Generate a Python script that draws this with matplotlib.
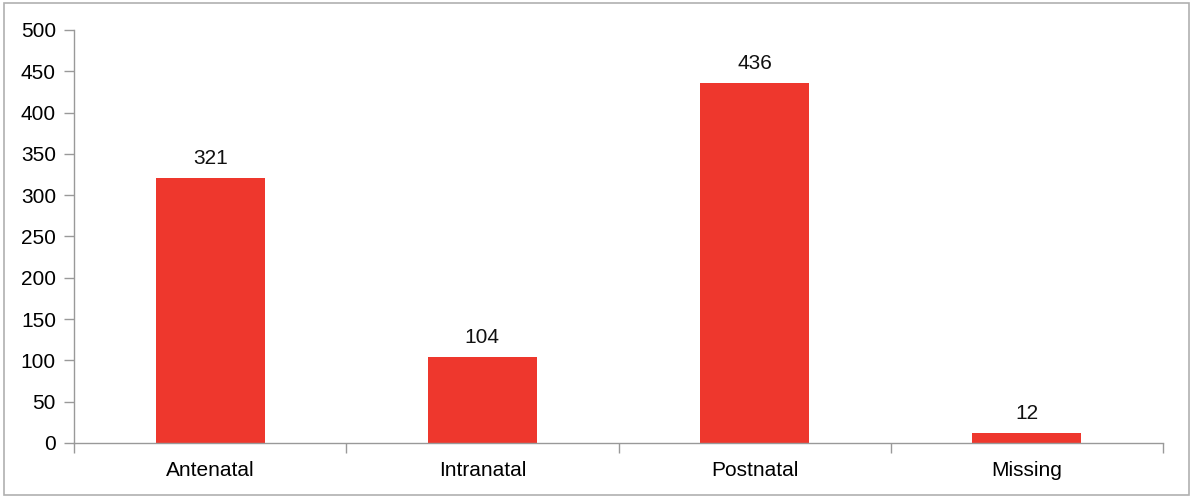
import matplotlib
matplotlib.use("Agg")
import matplotlib.pyplot as plt
from matplotlib.patches import Rectangle

categories = ["Antenatal", "Intranatal", "Postnatal", "Missing"]
values = [321, 104, 436, 12]
yticks = [0, 50, 100, 150, 200, 250, 300, 350, 400, 450, 500]

plt.rcParams['font.family'] = ['Liberation Sans', 'DejaVu Sans']

fig = plt.figure(figsize=(11.92, 4.96), dpi=100)
fig.patches.append(Rectangle((4/1192, 1/496), 1185/1192, 492/496, transform=fig.transFigure,
                             fill=False, edgecolor='#b0b0b0', linewidth=1.2))
ax = fig.add_axes([74/1192, 53/496, 1089/1192, 413/496])

x = list(range(len(categories)))
bars = ax.bar(x, values, width=0.4, color='#EE372D', zorder=2)
for xi, v in zip(x, values):
    ax.text(xi, v + 12, str(v), ha='center', va='bottom', fontsize=15, color='#111111')

ax.set_xlim(-0.5, len(categories) - 0.5)
ax.set_ylim(0, 500)
ax.set_yticks(yticks)
ax.set_yticklabels([str(t) for t in yticks], fontsize=15)
ax.set_xticks(x)
ax.set_xticklabels(categories, fontsize=15)
ax.tick_params(axis='x', length=0, pad=13)
ax.set_xticks([i - 0.5 for i in range(len(categories) + 1)], minor=True)
ax.tick_params(axis='x', which='minor', length=7, color='#999999', width=1)
ax.tick_params(axis='y', length=7, color='#999999', width=1, pad=6)

for s in ['top', 'right']:
    ax.spines[s].set_visible(False)
for s in ['left', 'bottom']:
    ax.spines[s].set_color('#999999')
    ax.spines[s].set_linewidth(1)

fig.savefig("out.png", dpi=100)
